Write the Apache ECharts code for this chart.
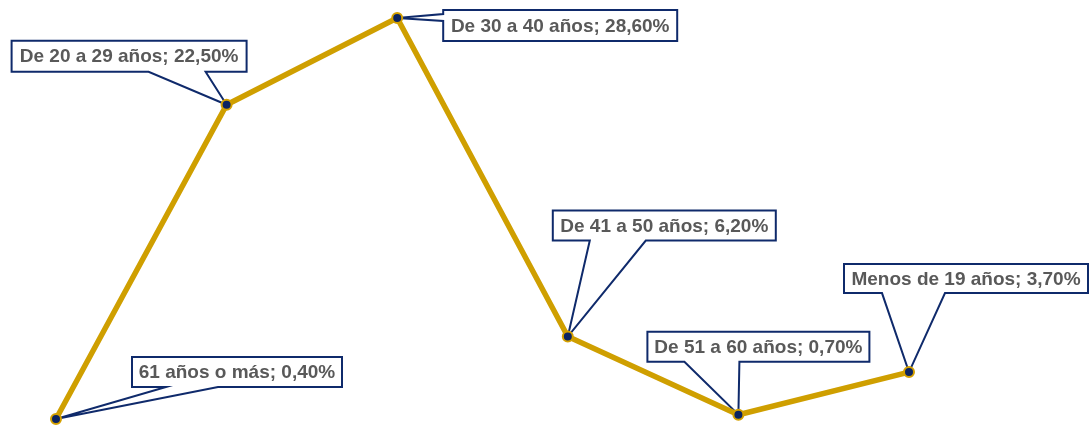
<!DOCTYPE html>
<html><head><meta charset="utf-8">
<script src="https://cdn.jsdelivr.net/npm/echarts@6/dist/echarts.min.js"></script>
<style>html,body{margin:0;padding:0;background:#fff}#c{width:1090px;height:426px}</style>
</head><body><div id="c"></div>
<script>
const categories = ['61 años o más', 'De 20 a 29 años', 'De 30 a 40 años', 'De 41 a 50 años', 'De 51 a 60 años', 'Menos de 19 años'];
const values = [0.4, 22.5, 28.6, 6.2, 0.7, 3.7];

// callout layout (relative to the data point): box offset, box size, wedge side and wedge base
const callouts = [
  {dx: 76, dy: -62, w: 210, h: 30, side: 'bottom', b: [34, 86]},
  {dx: -215, dy: -64, w: 235, h: 31, side: 'bottom', b: [137, 194]},
  {dx: 46, dy: -8, w: 234, h: 31, side: 'left', b: [4, 11]},
  {dx: -15, dy: -126, w: 223, h: 30, side: 'bottom', b: [37, 93]},
  {dx: -91, dy: -83, w: 222, h: 30, side: 'bottom', b: [37, 92]},
  {dx: -65, dy: -108, w: 244, h: 29, side: 'bottom', b: [38, 101]}
];

const fmt = v => v.toFixed(2).replace('.', ',') + '%';
const chart = echarts.init(document.getElementById('c'));
chart.setOption({
  animation: false,
  grid: {left: 56, right: 181, top: 18, bottom: 1.3},
  xAxis: {type: 'category', data: categories, boundaryGap: false, show: false},
  yAxis: {type: 'value', min: 0, max: 28.6, show: false},
  series: [
    {
      type: 'custom',
      z: 1,
      clip: false,
      data: values.map((v, i) => [i, v]),
      renderItem: function (params, api) {
        const i = params.dataIndex;
        const p = api.coord([api.value(0), api.value(1)]);
        const c = callouts[i];
        const x0 = p[0] + c.dx, y0 = p[1] + c.dy, x1 = x0 + c.w, y1 = y0 + c.h;
        let pts;
        if (c.side === 'bottom') {
          pts = [[x0, y0], [x1, y0], [x1, y1], [x0 + c.b[1], y1], [p[0], p[1]], [x0 + c.b[0], y1], [x0, y1]];
        } else {
          pts = [[x0, y0], [x1, y0], [x1, y1], [x0, y1], [x0, y0 + c.b[1]], [p[0], p[1]], [x0, y0 + c.b[0]]];
        }
        return {
          type: 'group',
          children: [
            {type: 'polygon', shape: {points: pts},
             style: {fill: '#fff', stroke: '#0F2A6B', lineWidth: 2, lineJoin: 'miter'}},
            {type: 'text',
             style: {text: categories[i] + '; ' + fmt(values[i]), x: (x0 + x1) / 2, y: (y0 + y1) / 2 + 1,
               align: 'center', verticalAlign: 'middle', fill: '#595959',
               fontSize: 19, fontWeight: 'bold', fontFamily: '"Liberation Sans", Arial, sans-serif'}}
          ]
        };
      }
    },
    {
      type: 'line',
      z: 2,
      clip: false,
      data: values,
      lineStyle: {color: '#CF9F00', width: 5.5},
      symbol: 'circle',
      symbolSize: 10,
      itemStyle: {color: '#0C2461', borderColor: '#D4A000', borderWidth: 2}
    }
  ]
});
</script>
</body></html>
